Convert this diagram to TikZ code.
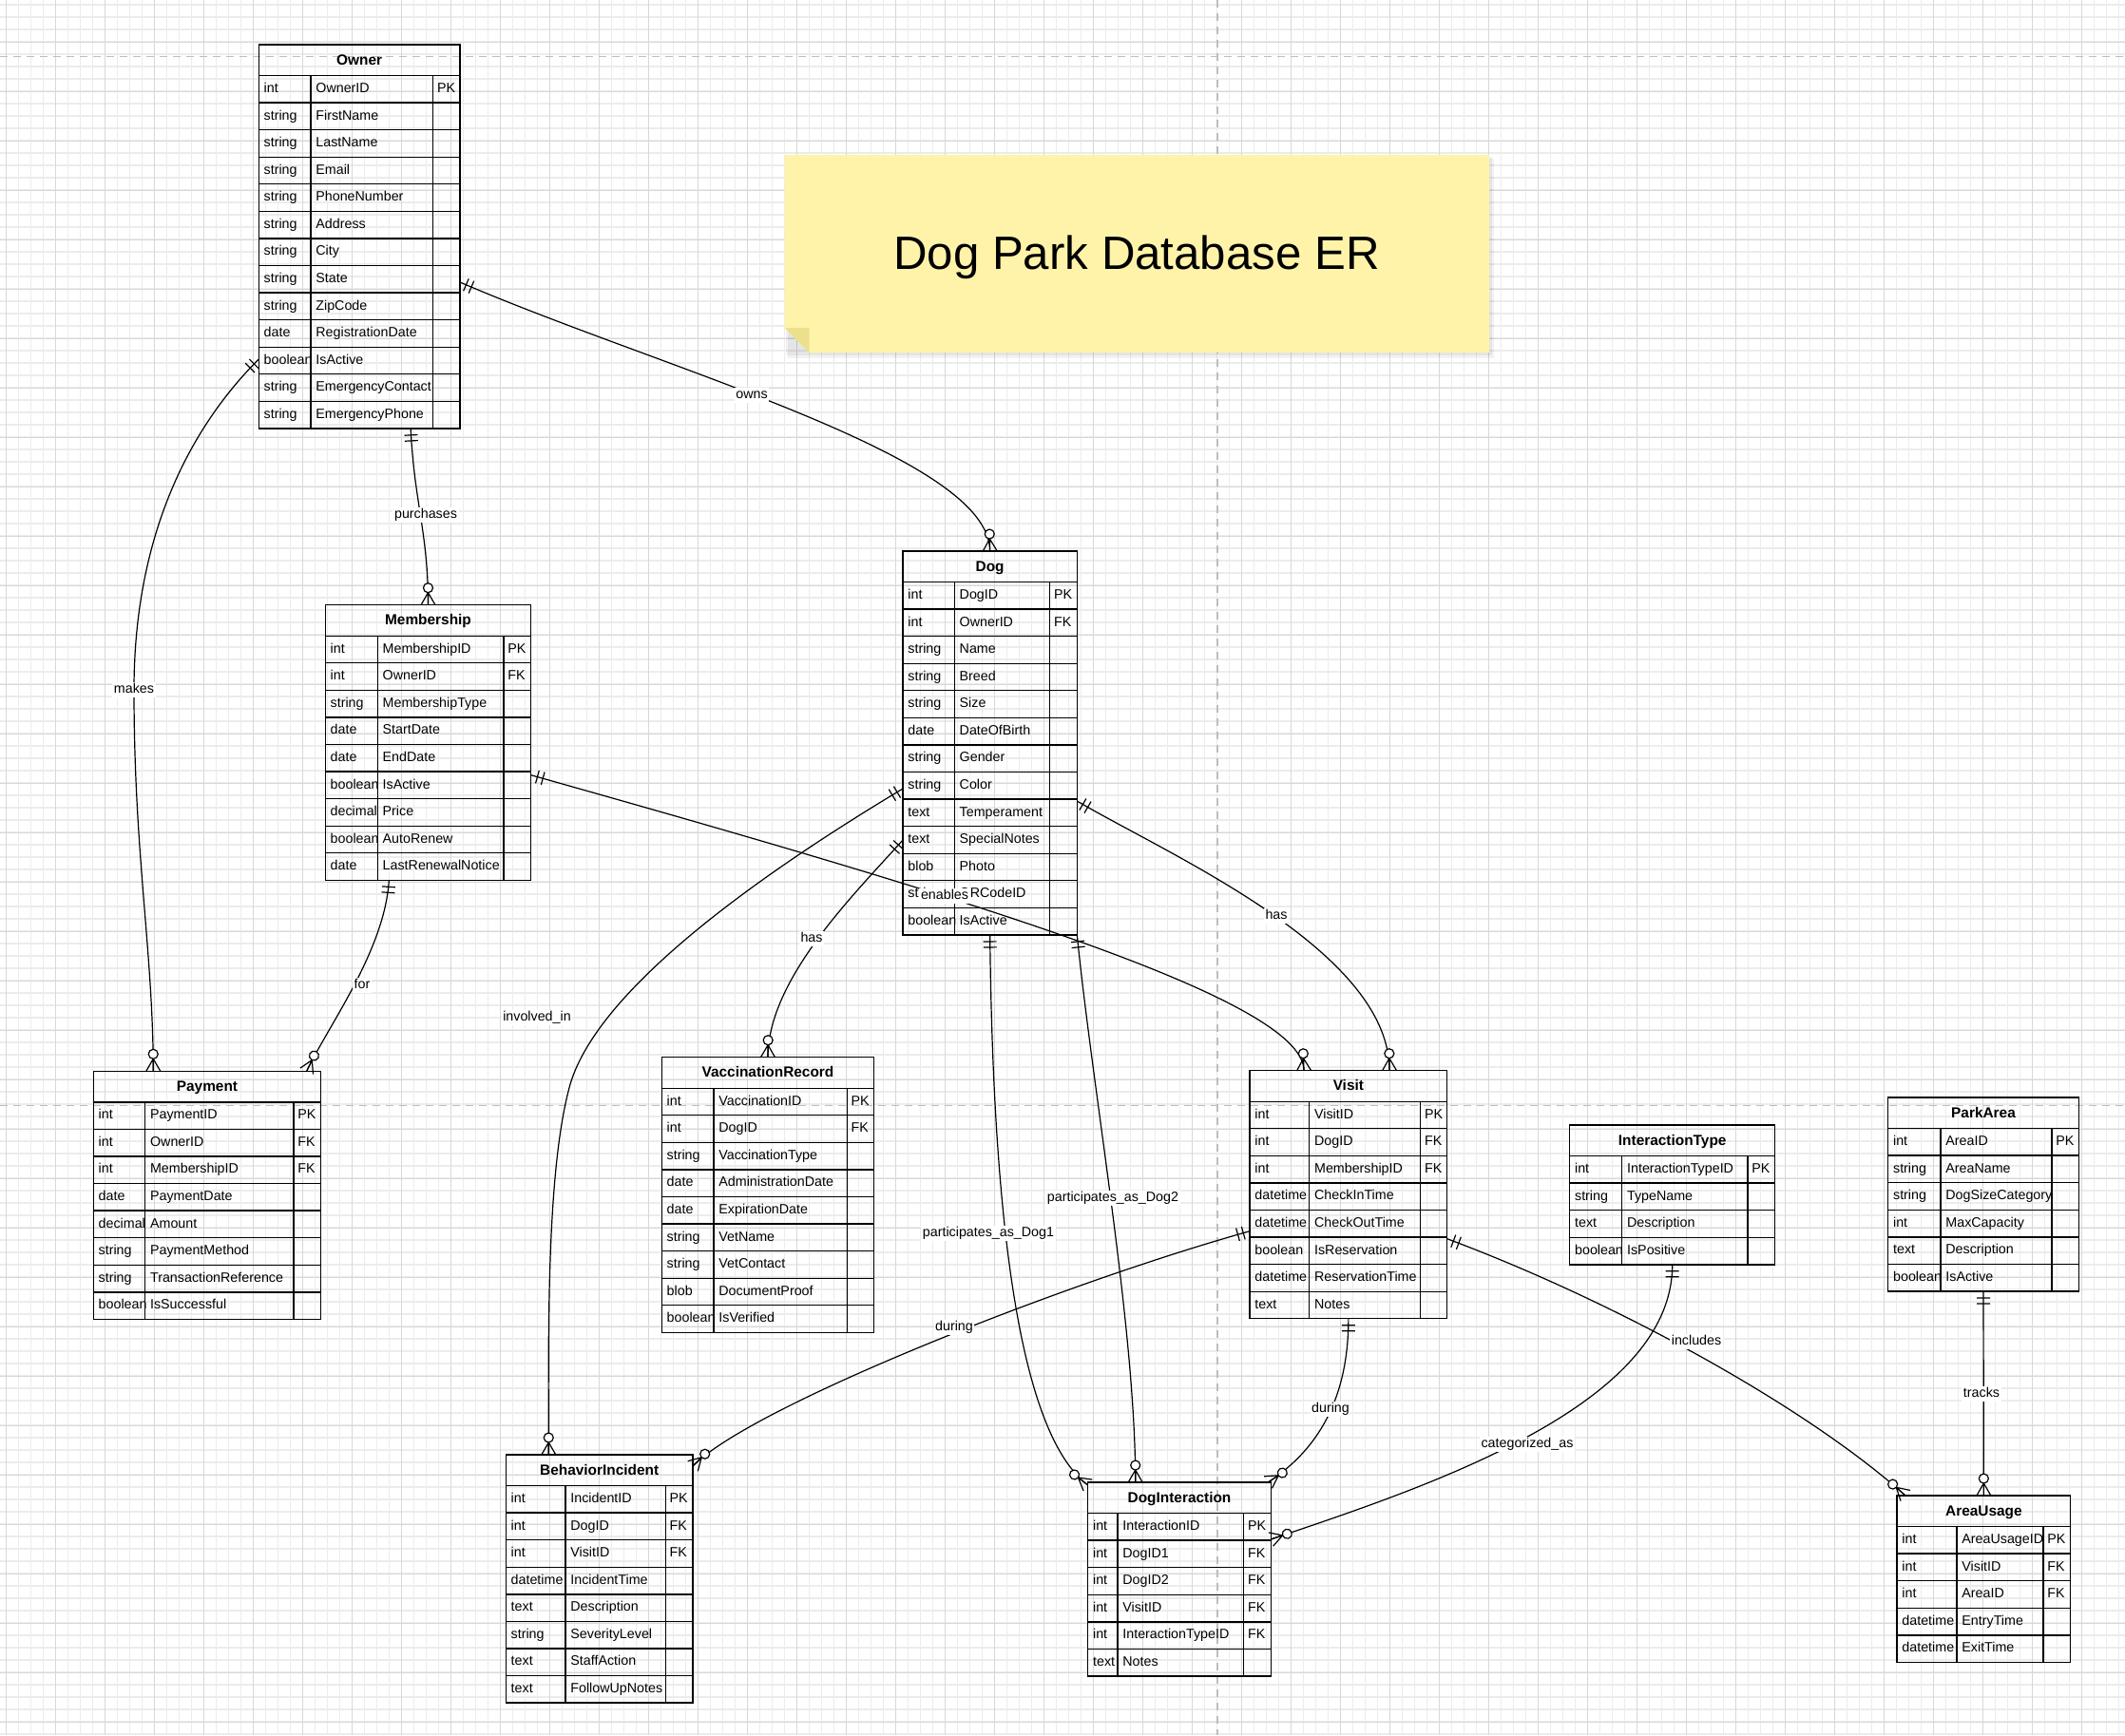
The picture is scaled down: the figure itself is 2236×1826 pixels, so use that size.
\documentclass[tikz,border=0pt]{standalone}
\usepackage{fontspec}
\setmainfont{Liberation Sans}
\usetikzlibrary{calc,decorations.markings}
\definecolor{gridc}{HTML}{ECECEC}
\definecolor{gridmaj}{HTML}{D8D8D8}
\definecolor{pagec}{HTML}{BDBDBD}
\definecolor{notec}{HTML}{FFF3AA}
\definecolor{notefold}{HTML}{EDE08C}

\tikzset{
  tblbox/.style={draw=black, line width=0.7pt, inner sep=0pt, outer sep=0pt},
  tblline/.style={draw=black, line width=0.7pt},
  celltxt/.style={font=\fontsize{7.14pt}{8.5pt}\selectfont, inner sep=0pt, anchor=west, text height=5.2pt, text depth=1.5pt},
  headtxt/.style={font=\bfseries\fontsize{7.7pt}{9pt}\selectfont, inner sep=0pt, text height=5.6pt, text depth=1.6pt},
  lbl/.style={font=\fontsize{7.14pt}{8.5pt}\selectfont, fill=white, inner sep=0.8pt, text height=5.2pt, text depth=1.5pt},
  markln/.style={draw=black, line width=0.6pt},
  rel/.style={draw=black, line width=0.6pt, postaction={decorate, decoration={markings,
     mark=at position 0.5pt with {\draw[markln] (3pt,-3.5pt)--(3pt,3.5pt) (6pt,-3.5pt)--(6pt,3.5pt);},
     mark=at position -0.5pt with {\draw[markln] (-6pt,0pt)--(0.5pt,3.75pt) (-6pt,0pt)--(0.5pt,-3.75pt) (-6pt,0pt)--(0.5pt,0pt); \draw[markln,fill=white] (-8.5pt,0pt) circle[radius=2.5pt];}}}},
  gridln/.style={draw=gridc, line width=0.55pt},
  gridmj/.style={draw=gridmaj, line width=0.45pt},
  pageln/.style={draw=pagec, line width=0.6pt, dash pattern=on 4pt off 3pt},
}

% #1 name #2 x #3 y #4 w1 #5 w2 #6 w3 #7 nrows #8 title #9 rows
\newcommand\ertable[9]{%
  \pgfmathsetmacro\erW{#4+#5+#6}%
  \pgfmathsetmacro\erH{32.5+#7*28.57}%
  \node[tblbox, anchor=north west, minimum width=\erW*0.5pt, minimum height=\erH*0.5pt] (#1) at (#2,#3) {};
  \node[headtxt] (#1-title) at ($(#1.north)+(0,17)$) {#8};
  \draw[tblline] ($(#1.north west)+(0,32.5)$) -- ($(#1.north east)+(0,32.5)$);
  \draw[tblline] ($(#1.north west)+(#4,32.5)$) -- ($(#1.south west)+(#4,0)$);
  \draw[tblline] ($(#1.north west)+(#4+#5,32.5)$) -- ($(#1.south west)+(#4+#5,0)$);
  \foreach \erA/\erB/\erC [count=\eri] in {#9} {
    \ifnum\eri<#7 \draw[tblline] ($(#1.north west)+(0,32.5+\eri*28.57)$) -- ($(#1.north east)+(0,32.5+\eri*28.57)$);\fi
    \node[celltxt] (#1-\eri-a) at ($(#1.north west)+(5,32.5+\eri*28.57-14.285)$) {\erA};
    \node[celltxt] (#1-\eri-b) at ($(#1.north west)+(#4+5,32.5+\eri*28.57-14.285)$) {\erB};
    \node[celltxt] (#1-\eri-c) at ($(#1.north west)+(#4+#5+4,32.5+\eri*28.57-14.285)$) {\erC};
  }%
}

\begin{document}
\begin{tikzpicture}[x=0.5pt,y=-0.5pt]
\useasboundingbox (0,0) rectangle (2236,1826);
\fill[white] (0,0) rectangle (2236,1826);
% grid (minor 13px, major every 4)
\foreach \i in {0,...,172} { \draw[gridln] ({6.3+\i*13},0) -- ({6.3+\i*13},1826); }
\foreach \j in {0,...,140} { \draw[gridln] (0,{5+\j*13}) -- (2236,{5+\j*13}); }
\foreach \i in {0,...,43} { \draw[gridmj] ({6.3+\i*52},0) -- ({6.3+\i*52},1826); }
\foreach \j in {0,...,35} { \draw[gridmj] (0,{-8+\j*52}) -- (2236,{-8+\j*52}); }
% page breaks
\draw[pageln] (0,59.3) -- (2236,59.3);
\draw[pageln] (0,1163.5) -- (2236,1163.5);
\draw[pageln] (1281,0) -- (1281,1826);

% note
\fill[black, opacity=0.05] (829,167) rectangle (1572,377);
\fill[black, opacity=0.05] (827,165) rectangle (1570,374);
\fill[notec] (825.7,163) -- (1567,163) -- (1567,371) -- (851.7,371) -- (825.7,345) -- cycle;
\fill[notefold] (825.7,345) -- (851.7,345) -- (851.7,371) -- cycle;
\node[font=\fontsize{24.6pt}{29pt}\selectfont] (title) at (1196,271) {Dog Park Database ER};

% tables
\ertable{owner}{272.3}{47}{54.7}{128.7}{28.3}{13}{Owner}{int/OwnerID/PK, string/FirstName/{}, string/LastName/{}, string/Email/{}, string/PhoneNumber/{}, string/Address/{}, string/City/{}, string/State/{}, string/ZipCode/{}, date/RegistrationDate/{}, boolean/IsActive/{}, string/EmergencyContact/{}, string/EmergencyPhone/{}}
\ertable{membership}{342.3}{636.7}{55}{132.7}{28.7}{9}{Membership}{int/MembershipID/PK, int/OwnerID/FK, string/MembershipType/{}, date/StartDate/{}, date/EndDate/{}, boolean/IsActive/{}, decimal/Price/{}, boolean/AutoRenew/{}, date/LastRenewalNotice/{}}
\ertable{dog}{950}{580}{54.3}{100.4}{28.6}{13}{Dog}{int/DogID/PK, int/OwnerID/FK, string/Name/{}, string/Breed/{}, string/Size/{}, date/DateOfBirth/{}, string/Gender/{}, string/Color/{}, text/Temperament/{}, text/SpecialNotes/{}, blob/Photo/{}, string/QRCodeID/{}, boolean/IsActive/{}}
\ertable{payment}{98.3}{1127.3}{54.4}{156.3}{28.7}{8}{Payment}{int/PaymentID/PK, int/OwnerID/FK, int/MembershipID/FK, date/PaymentDate/{}, decimal/Amount/{}, string/PaymentMethod/{}, string/TransactionReference/{}, boolean/IsSuccessful/{}}
\ertable{vacc}{696.3}{1112.7}{54.7}{140.3}{28.4}{9}{VaccinationRecord}{int/VaccinationID/PK, int/DogID/FK, string/VaccinationType/{}, date/AdministrationDate/{}, date/ExpirationDate/{}, string/VetName/{}, string/VetContact/{}, blob/DocumentProof/{}, boolean/IsVerified/{}}
\ertable{visit}{1315}{1126.7}{62.7}{117}{28}{8}{Visit}{int/VisitID/PK, int/DogID/FK, int/MembershipID/FK, datetime/CheckInTime/{}, datetime/CheckOutTime/{}, boolean/IsReservation/{}, datetime/ReservationTime/{}, text/Notes/{}}
\ertable{itype}{1651.7}{1184}{55}{132.3}{28.7}{4}{InteractionType}{int/InteractionTypeID/PK, string/TypeName/{}, text/Description/{}, boolean/IsPositive/{}}
\ertable{parea}{1986.7}{1155}{55.3}{117}{28.3}{6}{ParkArea}{int/AreaID/PK, string/AreaName/{}, string/DogSizeCategory/{}, int/MaxCapacity/{}, text/Description/{}, boolean/IsActive/{}}
\ertable{binc}{532.3}{1531}{62.7}{105.3}{28.7}{8}{BehaviorIncident}{int/IncidentID/PK, int/DogID/FK, int/VisitID/FK, datetime/IncidentTime/{}, text/Description/{}, string/SeverityLevel/{}, text/StaffAction/{}, text/FollowUpNotes/{}}
\ertable{dint}{1144.7}{1560}{31.3}{132.7}{28.6}{6}{DogInteraction}{int/InteractionID/PK, int/DogID1/FK, int/DogID2/FK, int/VisitID/FK, int/InteractionTypeID/FK, text/Notes/{}}
\ertable{ausage}{1996}{1574}{63}{91}{28.7}{5}{AreaUsage}{int/AreaUsageID/PK, int/VisitID/FK, int/AreaID/FK, datetime/EntryTime/{}, datetime/ExitTime/{}}

% connectors
\draw[rel] ($(owner.north east)+(0,250)$) .. controls (700,390) and (1041.6,480) .. (dog.north);
\draw[rel] ($(owner.south)+(54,0)$) .. controls (436,530) and (450.5,560) .. (membership.north);
\draw[rel] ($(owner.north west)+(0,331)$) .. controls (202,448) and (141,560) .. (141,726) .. controls (141,900) and (161,1000) .. ($(payment.north west)+(63,0)$);
\draw[rel] ($(membership.south west)+(67,0)$) .. controls (405,1000) and (345,1080) .. ($(payment.north east)+(-15,0)$);
\draw[rel] ($(membership.north east)+(0,179)$) .. controls (1000,940) and (1372,1050) .. ($(visit.north west)+(57,0)$);
\draw[rel] ($(dog.north west)+(0,304)$) .. controls (900,940) and (808,1030) .. (vacc.north);
\draw[rel] ($(dog.north east)+(0,263)$) .. controls (1230,900) and (1462,1000) .. ($(visit.north west)+(147,0)$);
\draw[rel] ($(dog.north west)+(0,250)$) .. controls (800,920) and (630,1040) .. (600,1141) .. controls (575,1230) and (577,1400) .. ($(binc.north west)+(45,0)$);
\draw[rel] (dog.south) .. controls (1045,1300) and (1075,1510) .. ($(dint.north west)+(0,3)$);
\draw[rel] (dog.south east) .. controls (1150,1150) and (1195,1400) .. ($(dint.north west)+(50,0)$);
\draw[rel] ($(visit.north west)+(0,169)$) .. controls (1120,1350) and (790,1480) .. ($(binc.north east)+(0,12)$);
\draw[rel] (visit.south) .. controls (1419,1480) and (1380,1530) .. ($(dint.north east)+(-3,0)$);
\draw[rel] ($(visit.north east)+(0,177)$) .. controls (1700,1370) and (1900,1480) .. ($(ausage.north west)+(9,0)$);
\draw[rel] (itype.south) .. controls (1760,1480) and (1500,1565) .. ($(dint.north east)+(0,60)$);
\draw[rel] (parea.south) -- (ausage.north);

% labels
\node[lbl] (l-owns) at (791,416) {owns};
\node[lbl] (l-purchases) at (448,542) {purchases};
\node[lbl] (l-makes) at (141,726) {makes};
\node[lbl] (l-for) at (381,1037) {for};
\node[lbl] (l-enables) at (994,943) {enables};
\node[lbl] (l-hasv) at (854,988) {has};
\node[lbl] (l-hasvisit) at (1343,964) {has};
\node[lbl] (l-involved) at (565,1071) {involved\_in};
\node[lbl] (l-pd1) at (1040,1298) {participates\_as\_Dog1};
\node[lbl] (l-pd2) at (1171,1261) {participates\_as\_Dog2};
\node[lbl] (l-duringbi) at (1004,1397) {during};
\node[lbl] (l-duringdi) at (1400,1483) {during};
\node[lbl] (l-includes) at (1785,1412) {includes};
\node[lbl] (l-cat) at (1607,1520) {categorized\_as};
\node[lbl] (l-tracks) at (2085,1467) {tracks};
\end{tikzpicture}
\end{document}
